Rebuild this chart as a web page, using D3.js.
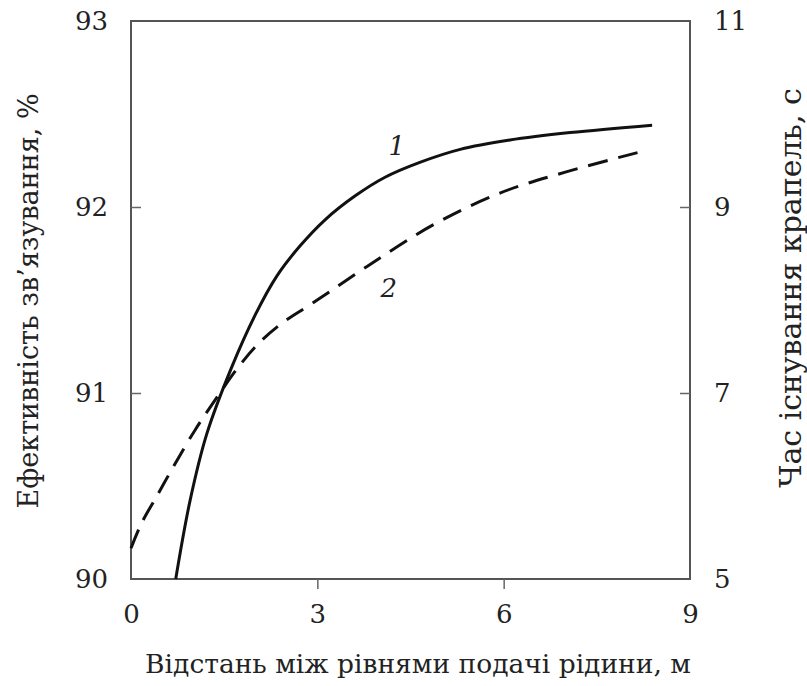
<!DOCTYPE html>
<html>
<head>
<meta charset="utf-8">
<script src="https://cdn.jsdelivr.net/npm/d3@7"></script>
<style>
  body { margin: 0; background: #fff; }
  text { font-family: "DejaVu Serif", serif; fill: #222; }
</style>
</head>
<body>
<script>
const width = 807;
const height = 686;
const margin = {top: 21, right: 117, bottom: 107, left: 131};

// curve 1: efficiency (left axis)
const distance1 = [0.72, 0.95, 1.22, 1.61, 2.0, 2.35, 2.72, 3.12, 3.61, 4.09, 4.65, 5.3, 6.1, 7.07, 8.39];
const efficiency = [90.0, 90.42, 90.78, 91.13, 91.42, 91.63, 91.79, 91.93, 92.06, 92.16, 92.24, 92.31, 92.36, 92.4, 92.44];

// curve 2: droplet lifetime (right axis)
const distance2 = [0, 0.17, 0.44, 0.71, 1.03, 1.35, 1.73, 2.05, 2.43, 2.91, 3.8, 4.87, 5.94, 7.02, 8.3];
const lifetime = [5.33, 5.6, 5.92, 6.24, 6.6, 6.92, 7.28, 7.53, 7.75, 7.96, 8.36, 8.81, 9.15, 9.38, 9.61];

const xTicks = [0, 3, 6, 9];
const leftTicks = [90, 91, 92, 93];
const rightTicks = [5, 7, 9, 11];

const xTitle = "Відстань між рівнями подачі рідини, м";
const leftTitle = "Ефективність зв\u2019язування, %";
const rightTitle = "Час існування крапель, с";

const innerW = width - margin.left - margin.right;
const innerH = height - margin.top - margin.bottom;

let svg = d3.select("body")
    .append("svg")
    .attr("width", width)
    .attr("height", height);

let g = svg.append("g")
    .attr("transform", "translate(" + margin.left + "," + margin.top + ")");

var xScale = d3.scaleLinear().domain([0, 9]).range([0, innerW]);
var yLeft = d3.scaleLinear().domain([90, 93]).range([innerH, 0]);
var yRight = d3.scaleLinear().domain([5, 11]).range([innerH, 0]);

// frame
g.append("rect")
    .attr("width", innerW)
    .attr("height", innerH)
    .attr("fill", "none")
    .attr("stroke", "#555")
    .attr("stroke-width", 2);

// axes: bottom ticks outward, side ticks inward
var xAxis = d3.axisBottom(xScale).tickValues(xTicks).tickSize(10).tickPadding(14);
var leftAxis = d3.axisRight(yLeft).tickValues(leftTicks).tickSize(10).tickFormat(d3.format("d"));
var rightAxis = d3.axisLeft(yRight).tickValues(rightTicks).tickSize(10).tickFormat(d3.format("d"));

let gx = g.append("g").attr("transform", "translate(0," + innerH + ")").call(xAxis);
gx.selectAll("text").attr("font-size", 26).attr("dy", "0.75em");

let gl = g.append("g").call(leftAxis);
gl.selectAll("text").attr("font-size", 26).attr("x", -23).attr("text-anchor", "end");

let gr = g.append("g").attr("transform", "translate(" + innerW + ",0)").call(rightAxis);
gr.selectAll("text").attr("font-size", 26).attr("x", 24).attr("text-anchor", "start");

[gx, gl, gr].forEach(function(a) {
    a.select(".domain").remove();
    a.selectAll("line").attr("stroke", "#666").attr("stroke-width", 1.5);
    a.selectAll("text").attr("font-family", "DejaVu Serif").attr("fill", "#222");
});
// hide tick marks at frame corners
gl.selectAll(".tick").filter(function(d) { return d === 90 || d === 93; }).select("line").remove();
gr.selectAll(".tick").filter(function(d) { return d === 5 || d === 11; }).select("line").remove();
gx.selectAll(".tick").filter(function(d) { return d === 0 || d === 9; }).select("line").remove();

// curves
var line1 = d3.line()
    .x(function(d, i) { return xScale(distance1[i]); })
    .y(function(d) { return yLeft(d); })
    .curve(d3.curveCatmullRom);

var line2 = d3.line()
    .x(function(d, i) { return xScale(distance2[i]); })
    .y(function(d) { return yRight(d); })
    .curve(d3.curveCatmullRom);

g.append("path")
    .attr("d", line1(efficiency))
    .attr("fill", "none")
    .attr("stroke", "#111")
    .attr("stroke-width", 3);

g.append("path")
    .attr("d", line2(lifetime))
    .attr("fill", "none")
    .attr("stroke", "#111")
    .attr("stroke-width", 3)
    .attr("stroke-dasharray", "20,11");

// curve labels
g.append("text")
    .attr("x", xScale(4.28))
    .attr("y", yLeft(92.28))
    .attr("font-size", 26)
    .attr("font-style", "italic")
    .attr("text-anchor", "middle")
    .text("1");

g.append("text")
    .attr("x", xScale(4.15))
    .attr("y", yRight(8.03))
    .attr("font-size", 26)
    .attr("font-style", "italic")
    .attr("text-anchor", "middle")
    .text("2");

// axis titles
svg.append("text")
    .attr("x", 418)
    .attr("y", 673)
    .attr("font-size", 26.5)
    .attr("text-anchor", "middle")
    .text(xTitle);

svg.append("text")
    .attr("transform", "translate(38,301) rotate(-90)")
    .attr("font-size", 27)
    .attr("text-anchor", "middle")
    .text(leftTitle);

svg.append("text")
    .attr("transform", "translate(801,288) rotate(-90)")
    .attr("font-size", 30)
    .attr("text-anchor", "middle")
    .text(rightTitle);
</script>
</body>
</html>
